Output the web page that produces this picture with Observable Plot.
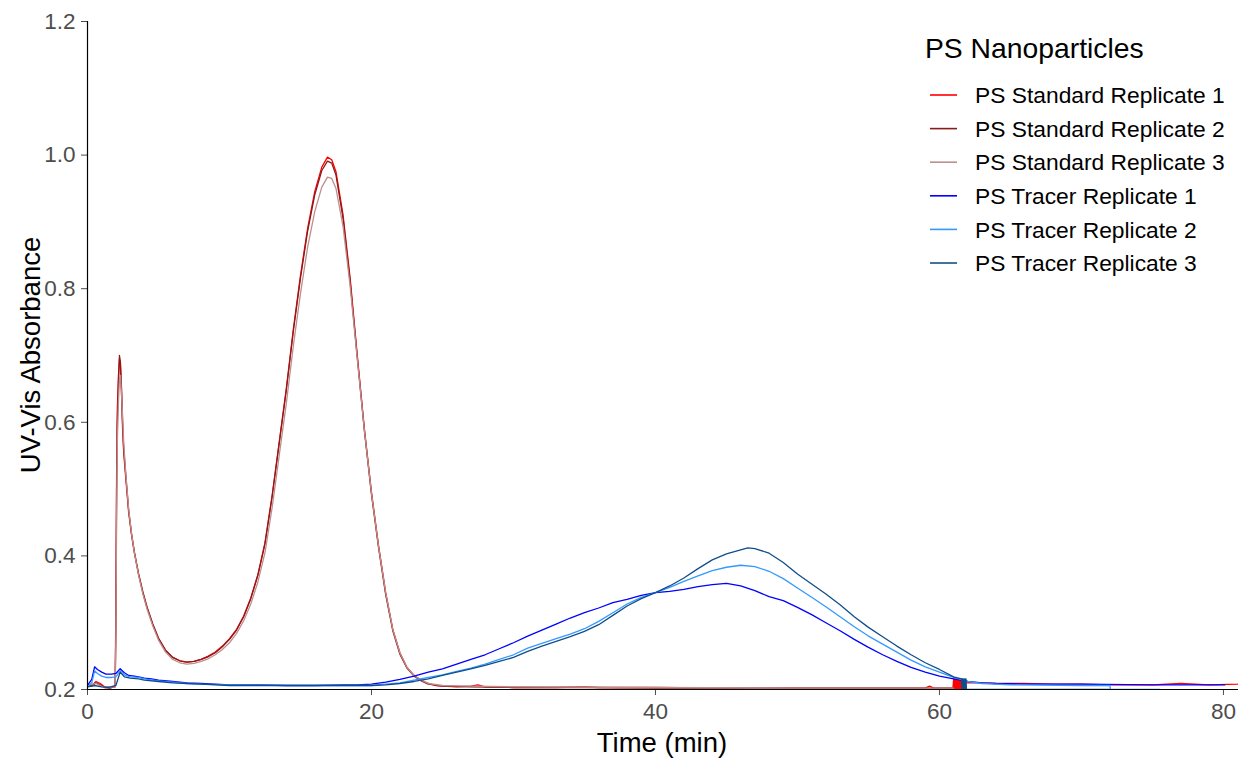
<!DOCTYPE html>
<html>
<head>
<meta charset="utf-8">
<script src="https://cdn.jsdelivr.net/npm/d3@7"></script>
<script src="https://cdn.jsdelivr.net/npm/@observablehq/plot@0.6"></script>
<style>
  html, body { margin: 0; padding: 0; background: #fff; }
  svg { display: block; }
</style>
</head>
<body>
<div id="chart"></div>
<script>
// ---- Data: [time (min), UV-Vis absorbance] ----
const std1 = [
  [0,0.208],[0.3,0.206],[0.6,0.212],[0.9,0.209],[1.2,0.204],[1.6,0.203],[1.95,0.204],
  [2.0,0.33],[2.05,0.52],[2.1,0.62],[2.18,0.67],[2.25,0.695],[2.32,0.685],[2.4,0.64],[2.47,0.59],[2.55,0.555],
  [2.7,0.515],[2.9,0.465],[3.1,0.432],[3.3,0.405],[3.6,0.372],[3.9,0.345],[4.2,0.322],[4.6,0.297],[5.0,0.276],
  [5.5,0.258],[6.0,0.248],[6.5,0.243],[7.0,0.241],[7.5,0.242],[8.0,0.245],[8.5,0.25],[9.0,0.256],[9.5,0.265],
  [10.0,0.276],[10.5,0.29],[11.0,0.31],[11.5,0.337],[12.0,0.372],[12.5,0.42],[13.0,0.49],[13.5,0.57],[14.0,0.65],
  [14.5,0.74],[15.0,0.82],[15.5,0.89],[16.0,0.945],[16.5,0.982],[16.9,0.997],[17.2,0.993],[17.5,0.975],[18.0,0.91],
  [18.5,0.815],[19.0,0.70],[19.5,0.59],[20.0,0.495],[20.5,0.415],[21.0,0.345],[21.5,0.29],[22.0,0.255],[22.5,0.233],
  [23.0,0.221],[23.5,0.214],[24.0,0.209],[24.5,0.206],[25,0.205],[26,0.204],[27,0.205],[27.5,0.207],[28,0.204],
  [30,0.203],[33,0.203],[35,0.204],[36,0.203],[40,0.203],[45,0.202],[50,0.202],[55,0.202],[59,0.202],[59.3,0.205],
  [59.6,0.202],[60.95,0.202],
  [61.0,0.216],[61.03,0.2],[61.06,0.216],[61.09,0.2],[61.12,0.216],[61.15,0.2],[61.18,0.216],[61.21,0.2],
  [61.24,0.216],[61.27,0.2],[61.3,0.216],[61.33,0.2],[61.36,0.216],[61.39,0.2],[61.42,0.216],[61.45,0.2],
  [61.48,0.216],[61.51,0.2],[61.54,0.216],[61.57,0.2],[61.6,0.216],[61.63,0.21],
  [63,0.210],[64,0.209],[66,0.209],[68,0.208],[70,0.208],[72,0.207],[75,0.207],[77,0.209],[79,0.207],[81,0.208],[81.1,0.209]
];
const std2 = [
  [0,0.207],[0.3,0.205],[0.6,0.210],[0.9,0.207],[1.2,0.203],[1.6,0.202],[1.95,0.205],[2.0,0.30],[2.05,0.50],
  [2.1,0.60],[2.18,0.66],[2.25,0.70],[2.32,0.69],[2.4,0.65],[2.47,0.60],[2.55,0.56],[2.7,0.52],[2.9,0.468],
  [3.1,0.433],[3.3,0.406],[3.6,0.373],[3.9,0.346],[4.2,0.323],[4.6,0.298],[5.0,0.277],[5.5,0.259],[6.0,0.248],
  [6.5,0.243],[7.0,0.241],[7.5,0.242],[8.0,0.245],[8.5,0.249],[9.0,0.255],[9.5,0.264],[10.0,0.275],[10.5,0.289],
  [11.0,0.309],[11.5,0.336],[12.0,0.371],[12.5,0.418],[13.0,0.488],[13.5,0.568],[14.0,0.648],[14.5,0.737],
  [15.0,0.816],[15.5,0.886],[16.0,0.94],[16.5,0.977],[16.9,0.991],[17.2,0.988],[17.5,0.97],[18.0,0.905],
  [18.5,0.81],[19.0,0.697],[19.5,0.588],[20.0,0.492],[20.5,0.412],[21.0,0.342],[21.5,0.288],[22.0,0.253],
  [22.5,0.232],[23.0,0.22],[23.5,0.213],[24.0,0.208],[25,0.205],[27,0.204],[30,0.203],[35,0.203],[40,0.202],
  [50,0.202],[60,0.202],[61,0.202]
];
const std3 = [
  [0,0.206],[0.6,0.209],[1.2,0.203],[1.95,0.204],[2.0,0.28],[2.05,0.46],[2.1,0.57],[2.18,0.63],[2.25,0.665],
  [2.32,0.67],[2.4,0.64],[2.47,0.61],[2.55,0.57],[2.7,0.522],[2.9,0.47],[3.1,0.434],[3.3,0.405],[3.6,0.371],
  [3.9,0.343],[4.2,0.32],[4.6,0.295],[5.0,0.274],[5.5,0.256],[6.0,0.245],[6.5,0.24],[7.0,0.238],[7.5,0.239],
  [8.0,0.242],[8.5,0.246],[9.0,0.252],[9.5,0.26],[10.0,0.27],[10.5,0.284],[11.0,0.303],[11.5,0.328],[12.0,0.361],
  [12.5,0.405],[13.0,0.472],[13.5,0.55],[14.0,0.628],[14.5,0.715],[15.0,0.793],[15.5,0.862],[16.0,0.915],
  [16.5,0.952],[16.9,0.967],[17.2,0.965],[17.5,0.95],[18.0,0.893],[18.5,0.803],[19.0,0.695],[19.5,0.588],
  [20.0,0.494],[20.5,0.414],[21.0,0.345],[21.5,0.29],[22.0,0.255],[22.5,0.233],[23.0,0.221],[23.5,0.214],
  [24.0,0.209],[25,0.206],[27,0.205],[30,0.204],[40,0.203],[50,0.202],[60,0.202],[61,0.202]
];
const tra1 = [
  [0,0.206],[0.3,0.215],[0.5,0.234],[0.7,0.230],[1.0,0.226],[1.3,0.223],[1.7,0.223],[2.0,0.224],[2.3,0.231],
  [2.6,0.225],[2.9,0.221],[3.3,0.220],[3.6,0.219],[4.0,0.217],[4.5,0.216],[5.0,0.214],[6.0,0.212],[7.0,0.210],
  [8.0,0.209],[9,0.208],[10,0.207],[12,0.207],[14,0.206],[16,0.206],[18,0.207],[19,0.207],[20,0.208],[21,0.211],
  [22,0.215],[23,0.220],[24,0.226],[25,0.231],[26,0.238],[27,0.245],[28,0.252],[29,0.261],[30,0.270],[31,0.280],
  [32,0.289],[33,0.298],[34,0.307],[35,0.315],[36,0.322],[37,0.33],[38,0.335],[39,0.341],[40,0.345],[41,0.347],
  [42,0.35],[43,0.354],[44,0.357],[45,0.359],[46,0.355],[47,0.348],[48,0.339],[49,0.333],[50,0.323],[51,0.312],
  [52,0.300],[53,0.288],[54,0.275],[55,0.263],[56,0.252],[57,0.242],[58,0.233],[59,0.226],[60,0.220],[61,0.216],
  [62,0.212],[63,0.210],[64,0.209],[66,0.208],[70,0.208],[75,0.207],[80.1,0.207]
];
const tra2 = [
  [0,0.204],[0.3,0.210],[0.5,0.228],[0.7,0.224],[1.0,0.220],[1.3,0.218],[1.7,0.218],[2.0,0.219],[2.3,0.228],
  [2.6,0.222],[3.0,0.219],[3.6,0.218],[4.0,0.216],[5,0.213],[6,0.211],[7,0.209],[8,0.208],[10,0.207],[14,0.206],
  [20,0.206],[21,0.208],[22,0.210],[23,0.214],[24,0.218],[25,0.222],[26,0.227],[27,0.232],[28,0.238],[29,0.245],
  [30,0.252],[31,0.262],[32,0.269],[33,0.276],[34,0.283],[35,0.291],[36,0.302],[37,0.315],[38,0.328],[39,0.338],
  [40,0.345],[41,0.353],[42,0.362],[43,0.37],[44,0.378],[45,0.383],[46,0.386],[47,0.384],[48,0.377],[49,0.366],
  [50,0.352],[51,0.338],[52,0.324],[53,0.309],[54,0.294],[55,0.28],[56,0.268],[57,0.256],[58,0.244],[59,0.234],
  [60,0.226],[61,0.218],[62,0.212],[63,0.209],[65,0.207],[70,0.206],[72,0.206],[72.05,0.2],[75.5,0.2]
];
const tra3 = [
  [0,0.204],[0.5,0.206],[1.0,0.204],[1.5,0.203],[2.0,0.206],[2.3,0.226],[2.6,0.219],[3,0.217],[3.6,0.216],
  [4,0.214],[5,0.212],[6,0.210],[7,0.209],[8,0.208],[10,0.206],[14,0.206],[20,0.206],[21,0.207],[22,0.209],
  [23,0.212],[24,0.216],[25,0.221],[26,0.226],[27,0.231],[28,0.236],[29,0.242],[30,0.248],[31,0.257],[32,0.265],
  [33,0.272],[34,0.279],[35,0.287],[36,0.297],[37,0.311],[38,0.325],[39,0.336],[40,0.345],[41,0.355],[42,0.367],
  [43,0.381],[44,0.394],[45,0.403],[46,0.409],[46.5,0.412],[47,0.411],[48,0.404],[49,0.39],[50,0.373],[51,0.358],
  [52,0.343],[53,0.327],[54,0.309],[55,0.293],[56,0.279],[57,0.265],[58,0.252],[59,0.240],[60,0.230],[61,0.219],
  [61.55,0.216],[61.6,0.2],[61.63,0.216],[61.66,0.2],[61.69,0.216],[61.72,0.2],[61.75,0.216],[61.78,0.2],
  [61.81,0.216],[61.84,0.2],[61.87,0.216],[61.9,0.2],[72,0.2]
];

const seriesNames = [
  "PS Standard Replicate 1", "PS Standard Replicate 2", "PS Standard Replicate 3",
  "PS Tracer Replicate 1", "PS Tracer Replicate 2", "PS Tracer Replicate 3"
];
const seriesColors = ["#FF0000", "#8B1A1A", "#BC8F8F", "#0000FF", "#3399FF", "#104E8B"];
const seriesData = [std1, std2, std3, tra1, tra2, tra3];
const xTicks = [0, 20, 40, 60, 80];
const yTicks = [0.2, 0.4, 0.6, 0.8, 1.0, 1.2];
const legendTitle = "PS Nanoparticles";
const xTitle = "Time (min)";
const yTitle = "UV-Vis Absorbance";

// ---- Build long table ----
const rows = [];
seriesData.forEach((arr, i) => arr.forEach(([t, v]) => rows.push({t, v, s: seriesNames[i]})));

const W = 1238, H = 761;
const font = "'Liberation Sans', Arial, sans-serif";

const chart = Plot.plot({
  width: W, height: H,
  marginLeft: 87, marginRight: 0, marginTop: 21, marginBottom: 72,
  style: {fontFamily: font, fontSize: "22.5px", background: "#fff"},
  x: {domain: [0, 81.06]},
  y: {domain: [0.2, 1.2]},
  color: {domain: seriesNames, range: seriesColors},
  marks: [
    Plot.axisX({ticks: xTicks, tickSize: 6, tickPadding: 8, label: null, color: "#4d4d4d"}),
    Plot.axisY({ticks: yTicks, tickSize: 6, tickPadding: 6, label: null, color: "#4d4d4d", tickFormat: d3.format(".1f")}),
    Plot.line(rows, {x: "t", y: "v", z: "s", stroke: "s", strokeWidth: 1.3, clip: true}),
    Plot.ruleY([0.2], {stroke: "#000", strokeWidth: 1.2}),
    Plot.ruleX([0], {stroke: "#000", strokeWidth: 1.2})
  ]
});

document.getElementById("chart").appendChild(chart);

const svg = d3.select(chart);
// axis titles
svg.append("text")
  .attr("x", 662).attr("y", 752)
  .attr("text-anchor", "middle")
  .style("font-family", font).style("font-size", "27.5px").attr("fill", "#000")
  .text(xTitle);
svg.append("text")
  .attr("transform", "translate(40,355) rotate(-90)")
  .attr("text-anchor", "middle")
  .style("font-family", font).style("font-size", "27.5px").attr("fill", "#000")
  .text(yTitle);

// legend
const lg = svg.append("g").style("font-family", font).attr("text-anchor", "start");
lg.append("text").attr("x", 925).attr("y", 58).attr("text-anchor", "start")
  .style("font-size", "28.3px").attr("fill", "#000").text(legendTitle);
seriesNames.forEach((name, i) => {
  const y = 95 + i * 33.6;
  lg.append("line").attr("x1", 930).attr("x2", 957).attr("y1", y).attr("y2", y)
    .attr("stroke", seriesColors[i]).attr("stroke-width", 1.6);
  lg.append("text").attr("x", 975).attr("y", y).attr("dy", "0.36em").attr("text-anchor", "start")
    .style("font-size", "22.8px").attr("fill", "#000").text(name);
});
</script>
</body>
</html>
